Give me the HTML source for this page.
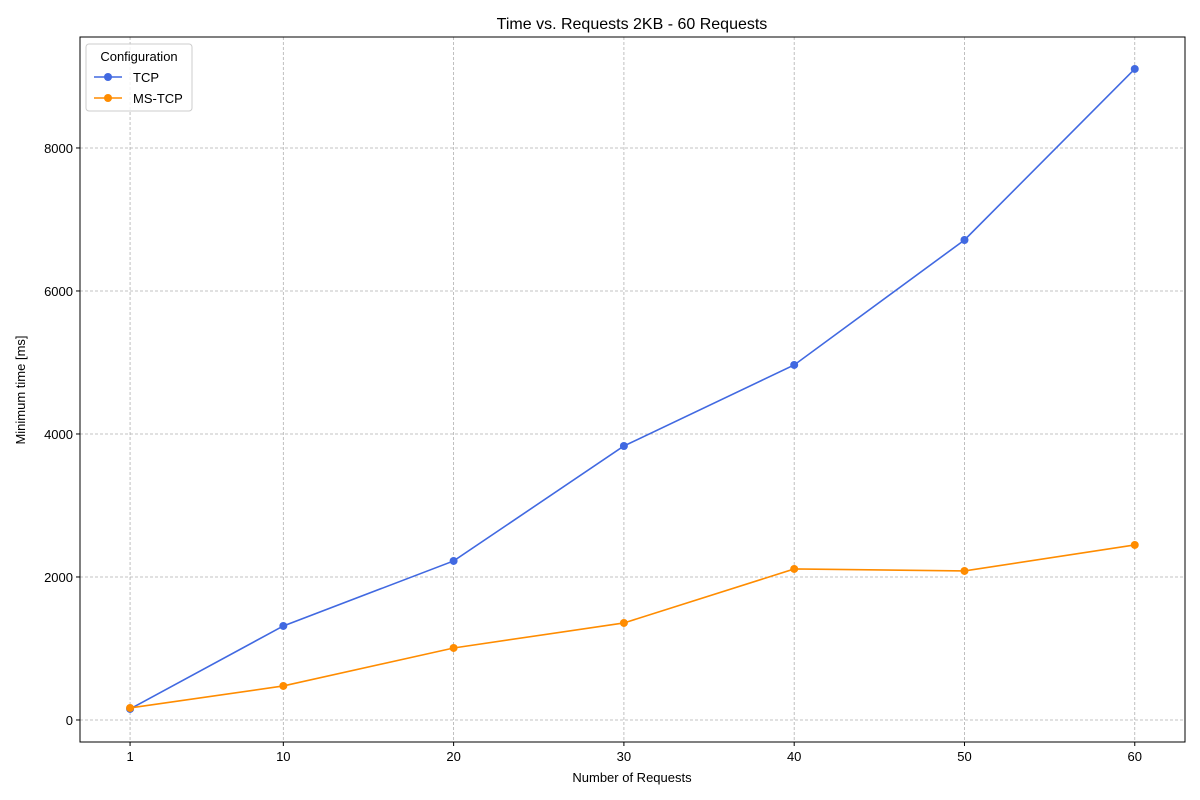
<!DOCTYPE html>
<html><head><meta charset="utf-8"><style>
html,body{margin:0;padding:0;background:#fff;}
svg{display:block;font-family:"Liberation Sans","DejaVu Sans",sans-serif;}
</style></head><body>
<svg id="chart" width="1200" height="800" viewBox="0 0 1200 800">
<text x="632" y="29" text-anchor="middle" font-size="16">Time vs. Requests 2KB - 60 Requests</text>
<text x="632" y="782" text-anchor="middle" font-size="13">Number of Requests</text>
<text transform="translate(25,390) rotate(-90)" text-anchor="middle" font-size="13">Minimum time [ms]</text>
<g id="grid"></g><g id="series"></g><g id="axes"></g>
</svg>
<script>
const categories=[1,10,20,30,40,50,60];
const tcpValues=[154,1315,2224,3832,4965,6713,9105];
const msTcpValues=[168,476,1007,1357,2112,2084,2448];
const xTicks=[1,10,20,30,40,50,60];
const yTicks=[0,2000,4000,6000,8000];
const L=80,R=1185,T=37,B=742;
const xMin=-1.94,xMax=62.95,yMin=-308,yMax=9552;
const sx=v=>L+(v-xMin)/(xMax-xMin)*(R-L);
const sy=v=>B-(v-yMin)/(yMax-yMin)*(B-T);
const NS="http://www.w3.org/2000/svg";
function mk(tag,attrs,parent){const e=document.createElementNS(NS,tag);for(const k in attrs)e.setAttribute(k,attrs[k]);parent.appendChild(e);return e;}
const grid=document.getElementById('grid'),axes=document.getElementById('axes'),ser=document.getElementById('series');
xTicks.forEach(t=>{const x=sx(t);
 const g=mk('line',{x1:x,x2:x,y1:T,y2:B,stroke:'#b0b0b0','stroke-width':0.8,'stroke-dasharray':'3,2'},grid);
 
 
 mk('line',{x1:x,x2:x,y1:B,y2:B+4,stroke:'#000'},axes);
 const lb=mk('text',{x:x,y:B+19,'text-anchor':'middle','font-size':13},axes);lb.textContent=t;
 
 });
yTicks.forEach(t=>{const y=sy(t);
 const g=mk('line',{x1:L,x2:R,y1:y,y2:y,stroke:'#b0b0b0','stroke-width':0.8,'stroke-dasharray':'3,2'},grid);
 
 
 mk('line',{x1:L-4,x2:L,y1:y,y2:y,stroke:'#000'},axes);
 const lb=mk('text',{x:L-7,y:y+5,'text-anchor':'end','font-size':13},axes);lb.textContent=t;
 
 });
const fr=mk('rect',{x:L,y:T,width:R-L,height:B-T,fill:'none',stroke:'#000','stroke-width':1},axes);


function drawSeries(vals,color,name){
 const pts=categories.map((c,i)=>sx(c)+','+sy(vals[i])).join(' ');
 const pl=mk('polyline',{points:pts,fill:'none',stroke:color,'stroke-width':1.6},ser);
 
 
 categories.forEach((c,i)=>{const m=mk('circle',{cx:sx(c),cy:sy(vals[i]),r:4,fill:color},ser);
  
  });
}
drawSeries(tcpValues,'#4169e1','tcp');
drawSeries(msTcpValues,'#ff8c00','ms-tcp');
// legend
const lg=mk('g',{},axes);


mk('rect',{x:86,y:44,width:106,height:67,rx:3,fill:'#fff','fill-opacity':0.8,stroke:'#ccc'},lg);
const lt=mk('text',{x:139,y:61,'text-anchor':'middle','font-size':13},lg);lt.textContent='Configuration';


[['TCP','#4169e1',77],['MS-TCP','#ff8c00',98]].forEach(([n,c,y])=>{
 const e=mk('g',{},lg);
 
 
 mk('line',{x1:94,x2:122,y1:y,y2:y,stroke:c,'stroke-width':1.6},e);
 mk('circle',{cx:108,cy:y,r:4,fill:c},e);
 const t=mk('text',{x:133,y:y+5,'font-size':13},e);t.textContent=n;});
</script>
</body></html>
